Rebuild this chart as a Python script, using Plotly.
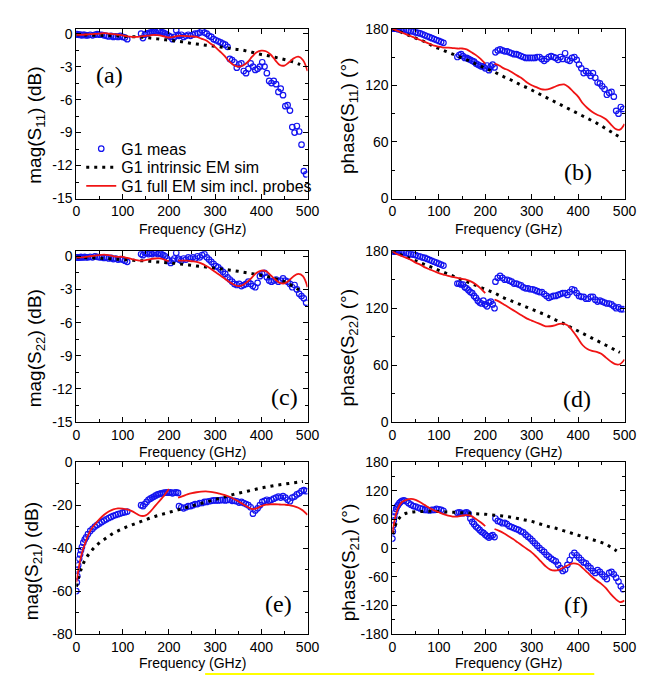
import plotly.graph_objects as go

# ---------------- frequency grids (GHz) ----------------
FREQ_MEAS_LOW = [0, 1, 2, 3, 4, 6, 8, 10, 12, 15, 18, 21, 25, 30, 35, 40, 45, 50, 55, 60,
                 65, 70, 75, 80, 85, 90, 95, 100, 105, 110]
FREQ_MEAS_MID = [140, 144, 148, 152, 156, 160, 164, 168, 172, 176, 180, 184, 188, 192,
                 196, 200, 204, 208, 212, 216, 220]
FREQ_MEAS_HIGH = [222, 227, 232, 237, 242, 247, 252, 257, 262, 267,
                  272, 277, 282, 287, 292, 297, 302, 307, 312, 317,
                  322, 327, 332, 337, 342, 347, 352, 357, 362, 367,
                  372, 377, 382, 387, 392, 397, 402, 407, 412, 417,
                  422, 427, 432, 437, 442, 447, 452, 457, 462, 467,
                  472, 477, 482, 487, 492, 497]
FREQ_SIM = [0, 10, 20, 30, 40, 50, 60, 70, 80, 90,
            100, 110, 120, 130, 140, 150, 160, 170, 180, 190,
            200, 210, 220, 230, 240, 250, 260, 270, 280, 290,
            300, 310, 320, 330, 340, 350, 360, 370, 380, 390,
            400, 410, 420, 430, 440, 450, 460, 470, 480, 490, 500]

# ---------------- (a) mag(S11) dB ----------------
a_meas_low = [-0.05, -0.05, -0.08, -0.1, -0.1, -0.1, -0.12, -0.1, -0.15, -0.1, -0.12, -0.15, -0.15,
              -0.1, -0.15, -0.1, -0.05, -0.1, -0.1, -0.15, -0.2, -0.25, -0.2, -0.3, -0.25, -0.3,
              -0.2, -0.3, -0.35, -0.5]
a_meas_mid = [0.0, -0.4, -0.1, 0.0, 0.05, 0.1, 0.15, 0.2, 0.1, 0.3, 0.25, 0.15, 0.1, 0.0,
              -0.1, -0.2, -0.3, -0.5, -0.3, 0.3, -0.1]
a_meas_high = [-0.2, -0.1, -0.3, -0.2, -0.1, -0.2, -0.1, 0.0, 0.0, 0.1,
               0.3, 0.1, 0.0, -0.2, -0.3, -0.5, -0.6, -0.7, -0.8, -0.9,
               -1.0, -1.2, -2.3, -2.4, -2.6, -3.1, -2.8, -2.7, -3.4, -3.6,
               -3.2, -2.7, -3.0, -3.3, -3.2, -3.0, -2.6, -3.0, -3.6, -4.3,
               -4.5, -4.3, -4.6, -5.3, -5.0, -5.6, -6.6, -6.5, -7.0, -8.5,
               -9.0, -8.4, -8.9, -10.1, -12.5, -12.8]
a_intr = [-0.1, -0.1, -0.12, -0.13, -0.15, -0.15, -0.17, -0.18, -0.2, -0.2,
          -0.22, -0.25, -0.27, -0.3, -0.32, -0.35, -0.4, -0.45, -0.5, -0.55,
          -0.6, -0.65, -0.7, -0.75, -0.82, -0.9, -0.95, -1.0, -1.05, -1.1,
          -1.15, -1.2, -1.27, -1.33, -1.4, -1.45, -1.5, -1.6, -1.7, -1.8,
          -1.9, -1.97, -2.05, -2.15, -2.25, -2.35, -2.45, -2.6, -2.75, -2.95, None]
a_full = [-0.1, -0.1, -0.08, -0.05, -0.02, 0.0, 0.05, 0.0, -0.05, -0.1,
          -0.15, -0.25, -0.3, -0.3, -0.25, -0.2, -0.15, -0.12, -0.15, -0.25,
          -0.35, -0.3, -0.2, -0.2, -0.22, -0.25, -0.3, -0.45, -0.6, -0.9,
          -1.2, -1.6, -2.0, -2.5, -2.85, -3.0, -2.9, -2.6, -2.1, -1.7,
          -1.55, -1.6, -1.9, -2.4, -2.85, -2.9, -2.6, -2.25, -2.1, -2.4, -3.4]

# ---------------- (b) phase(S11) deg ----------------
b_meas_low = [180, 180, 180, 180, 180, 180, 180, 180, 179.5, 179.5, 179, 179, 179, 178.5, 178,
              177.5, 177, 176, 175.5, 175, 174, 173, 172, 171, 170, 169, 168, 167, 166, 165]
b_meas_mid = [150, 152, 153, 151, 149, 149, 148, 147, 146, 145, 143, 142, 141, 140, 140, 138,
              141, 136, 140, 142, 139]
b_meas_high = [155, 157, 158, 157, 156, 156, 155, 154, 153, 153,
               152, 151, 150, 149, 149, 149, 149, 149, 150, 150,
               148, 146, 148, 150, 151, 150, 149, 147, 150, 148,
               154, 147, 146, 149, 150, 147, 142, 138, 133, 135,
               133, 130, 133, 128, 123, 122, 119, 116, 110, 112,
               113, 108, 93, 90, 97, 95]
b_intr = [180, 178, 176, 174, 172, 170, 168, 166, 163.5, 161,
          159, 157, 155, 153, 151, 149, 147, 145, 142.5, 140.5,
          138, 136, 134, 131.5, 129, 127, 124.5, 122, 119.5, 117.5,
          115, 112.5, 110, 107.5, 105, 102.5, 100, 97.5, 95, 92.5,
          90, 87.5, 85, 82.5, 80, 77, 74, 71, 68, 65, None]
b_full = [180, 178, 176, 174, 172, 170, 168, 166, 164, 162,
          161, 160, 160, 159.5, 159, 159, 158, 155, 152, 148,
          143, None, 143, 141, 138, 136, 133, 130, 127, 123,
          120, 118, 116, 115.5, 116.5, 118.5, 120.5, 121, 118, 113,
          108, 101, 96, 92, 89, 87, 84, 79, 74, 73, 79]

# ---------------- (c) mag(S22) dB ----------------
c_meas_low = [-0.1, -0.1, -0.1, -0.1, -0.1, -0.1, -0.1, -0.05, -0.1, -0.1, -0.05, -0.1, -0.1,
              -0.05, -0.1, 0.0, -0.05, -0.1, -0.1, -0.15, -0.1, -0.2, -0.15, -0.25, -0.2, -0.3,
              -0.25, -0.3, -0.4, -0.5]
c_meas_mid = [0.2, 0.1, 0.3, 0.3, 0.2, 0.3, 0.2, 0.3, 0.3, 0.2, 0.3, 0.2, 0.1, 0.0, -0.2,
              -0.4, -0.6, -0.4, -0.2, 0.3, -0.2]
c_meas_high = [-0.3, -0.4, -0.2, -0.3, -0.1, -0.2, -0.1, -0.2, 0.0, -0.1,
               0.1, 0.2, -0.1, -0.3, -0.5, -0.7, -0.9, -1.0, -1.2, -1.4,
               -1.6, -1.9, -2.1, -2.3, -2.5, -2.6, -2.5, -2.7, -2.6, -2.5,
               -2.3, -2.5, -2.7, -2.8, -2.4, -1.8, -1.6, -1.5, -1.9, -2.2,
               -2.3, -2.2, -2.1, -2.3, -2.2, -2.0, -2.2, -2.3, -2.5, -2.8,
               -2.6, -3.0, -3.4, -3.6, -3.8, -4.2]
c_intr = [-0.1, -0.1, -0.12, -0.13, -0.15, -0.17, -0.2, -0.22, -0.25, -0.27,
          -0.3, -0.32, -0.35, -0.38, -0.4, -0.43, -0.46, -0.5, -0.53, -0.56,
          -0.6, -0.63, -0.67, -0.72, -0.77, -0.82, -0.88, -0.93, -0.98, -1.03,
          -1.08, -1.13, -1.18, -1.24, -1.3, -1.36, -1.43, -1.5, -1.57, -1.64,
          -1.72, -1.8, -1.9, -2.0, -2.15, -2.3, -2.5, -2.75, -3.0, -3.2, None]
c_full = [-0.1, -0.1, -0.05, 0.0, 0.05, 0.1, 0.15, 0.1, 0.0, -0.05,
          -0.05, -0.15, -0.25, -0.35, -0.4, -0.35, -0.25, -0.2, -0.2, -0.3,
          -0.45, None, -0.4, -0.4, -0.4, -0.45, -0.5, -0.65, -0.85, -1.1,
          -1.4, -1.7, -2.0, -2.3, -2.55, -2.7, -2.6, -2.3, -1.9, -1.5,
          -1.3, -1.35, -1.7, -2.1, -2.4, -2.45, -2.2, -1.8, -1.6, -1.8, -2.8]

# ---------------- (d) phase(S22) deg ----------------
d_meas_low = [180, 180, 180, 180, 180, 180, 180, 180, 180, 179.5, 179, 179, 178.5, 178, 177.5,
              177, 176.5, 176, 175, 174.5, 173.5, 173, 172, 171, 170, 169, 168, 167, 166, 165]
d_meas_mid = [146, 146, 145, 145, 142, 141, 139, 137, 136, 133, 131, 128, 126, 125, 128, 124,
              122, 126, 127, 124, 120]
d_meas_high = [148, 152, 154, 152, 150, 150, 149, 148, 146, 146,
               145, 144, 142, 141, 141, 140, 140, 139, 138, 137,
               137, 135, 133, 131, 132, 133, 133, 134, 135, 136,
               136, 134, 137, 140, 139, 136, 133, 132, 132, 130,
               130, 132, 132, 129, 127, 128, 127, 126, 125, 125,
               124, 122, 120, 121, 119, 119]
d_intr = [180, 178, 176, 174, 172, 170, 168, 166, 164, 162,
          160, 158, 156, 154, 152, 150, 148, 146, 144, 142,
          140, 138, 136, 133.5, 131, 129, 127, 125, 123, 121,
          119, 117, 115, 113, 110.5, 108, 106, 103.5, 101, 98.5,
          96, 93.5, 91, 88.5, 86, 83.5, 81, 78.5, 76, 73.5, None]
d_full = [180, 177, 175, 173, 171, 168, 166, 163, 161, 159,
          157, 155.5, 154, 153, 152, 151, 150, 148, 145, 141,
          136, None, 129, 127, 124, 121, 118, 115, 112, 109,
          107, 105, 103, 101, 101, 102, 103.5, 103.5, 101, 95,
          88, 81, 77, 75, 74, 72, 68, 64, 61, 61, 66]

# ---------------- (e) mag(S21) dB ----------------
e_meas_low = [-60, -56, -53, -50, -48, -45, -43, -41, -39.5, -37.5, -36, -35, -33.5, -32, -31,
              -30, -29.2, -28.5, -27.8, -27.2, -26.6, -26, -25.5, -25, -24.6, -24.2, -23.9,
              -23.5, -23.3, -23]
e_meas_mid = [-20, -20.5, -19.5, -18.5, -17.5, -17, -16.5, -16, -15.5, -15, -14.8, -14.5,
              -14.3, -14.2, -14, -14.2, -14, -14.5, -14.2, -14, -14.3]
e_meas_high = [-20.5, -21, -21.5, -21, -20.5, -20.5, -20, -19.5, -19.5, -19,
               -19, -18.5, -18.5, -18.2, -18, -17.8, -17.8, -17.8, -17.7, -17.6,
               -17.8, -17.6, -17.5, -18, -18, -18.2, -18.8, -18.5, -19, -19.5,
               -20, -21, -24, -22.5, -21.5, -20, -18.5, -18, -17.5, -18,
               -17.5, -17, -16.5, -16, -16.5, -15.8, -16.5, -17.5, -18.2, -16.5,
               -16, -15, -14.5, -13.5, -13, -13.5]
e_intr = [-58, -50, -45, -42, -39.5, -37.5, -36, -34.5, -33, -32,
          -31, -30, -29.2, -28.4, -27.6, -26.8, -26, -25.3, -24.6, -24,
          -23.4, -22.8, -22.2, -21.6, -21, -20.4, -19.8, -19.2, -18.6, -18,
          -17.4, -16.8, -16.2, -15.6, -15, -14.5, -14, -13.5, -13, -12.5,
          -12, -11.6, -11.2, -10.8, -10.5, -10.2, -9.9, -9.6, -9.3, -9.0, None]
e_full = [-56, -44, -37, -32, -29, -26.5, -24.5, -23, -22, -21.5,
          -21.6, -22, -22.8, -24, -25, -24.8, -23, -20.5, -18, -15.5,
          -12.5, None, -16.5, -15.8, -15, -14.4, -14, -13.7, -13.6, -13.8,
          -14.2, -14.7, -15.2, -16, -17, -18.2, -19.5, -20.8, -21.8, -21.5,
          -20.5, -19.8, -19.6, -19.6, -19.7, -19.8, -20, -20.5, -21.2, -22.5, -24.5]

# ---------------- (f) phase(S21) deg ----------------
f_meas_low = [20, 35, 48, 58, 66, 75, 82, 87, 90, 94, 97, 99, 100, 98, 94, 91, 88, 87, 85, 83,
              82, 80, 80, 79, 80, 80, 82, 81, 80, 78]
f_meas_mid = [74, 75, 74, 73, 74, 75, 72, 62, 55, 50, 45, 42, 38, 34, 32, 28, 25, 22, 25, 27, 23]
f_meas_high = [62, 57, 55, 52, 53, 50, 46, 44, 42, 40,
               38, 35, 33, 28, 24, 20, 15, 10, 5, 0,
               -4, -8, -14, -18, -22, -25, -28, -35, -42, -48,
               -45, -35, -25, -15, -10, -15, -20, -25, -30, -32,
               -38, -42, -48, -52, -46, -50, -55, -60, -65, -52,
               -50, -55, -62, -70, -80, -86]
f_intr = [30, 56, 68, 73, 75, 76, 76.5, 77, 77, 77,
          76.5, 76, 75.5, 75, 74.5, 74, 73.5, 73, 72, 71.5,
          71, 70, 69, 68, 67, 65.5, 64, 62, 60, 58,
          56, 53, 50, 47, 44, 42, 39, 36, 33, 30,
          27, 24, 21, 18, 15, 12, 8, 2, -4, -11, None]
f_full = [32, 78, 96, 101, 103, 101, 96, 90, 84, 79,
          75, 71, 68, 66, 66, 68, 69, 67, 61, 54,
          46, None, 40, 36, 31, 25, 19, 12, 5, -2,
          -9, -18, -28, -38, -45, -47, -45, -40, -35, -32,
          -34, -42, -51, -60, -68, -75, -84, -96, -106, -113, -110]

# ---------------- axis tick labels ----------------
MAG_TICKS = [-15, -12, -9, -6, -3, 0]
PHASE_TICKS = [0, 60, 120, 180]
S21_MAG_TICKS = [-80, -60, -40, -20, 0]
S21_PHASE_TICKS = [-180, -120, -60, 0, 60, 120, 180]
FREQ_TICKS = [0, 100, 200, 300, 400, 500]

Y_TITLES = ["mag(S<sub>11</sub>) (dB)", "phase(S<sub>11</sub>) (°)",
            "mag(S<sub>22</sub>) (dB)", "phase(S<sub>22</sub>) (°)",
            "mag(S<sub>21</sub>) (dB)", "phase(S<sub>21</sub>) (°)"]
PANEL_LABELS = ["(a)", "(b)", "(c)", "(d)", "(e)", "(f)"]
LEGEND_NAMES = ["G1 meas", "G1 intrinsic EM sim", "G1 full EM sim incl. probes"]

# ---------------- figure ----------------
W, H = 649, 675
BLUE = "#1414f0"
RED = "#f01414"
FONT = "Liberation Sans, Arial, sans-serif"

panels = [
    (a_meas_low, a_meas_mid, a_meas_high, a_intr, a_full),
    (b_meas_low, b_meas_mid, b_meas_high, b_intr, b_full),
    (c_meas_low, c_meas_mid, c_meas_high, c_intr, c_full),
    (d_meas_low, d_meas_mid, d_meas_high, d_intr, d_full),
    (e_meas_low, e_meas_mid, e_meas_high, e_intr, e_full),
    (f_meas_low, f_meas_mid, f_meas_high, f_intr, f_full),
]

fig = go.Figure()
f_meas = FREQ_MEAS_LOW + FREQ_MEAS_MID + FREQ_MEAS_HIGH
for i, (lo, mid, hi, intr, full) in enumerate(panels):
    n = i + 1
    xa = "x" if n == 1 else f"x{n}"
    ya = "y" if n == 1 else f"y{n}"
    show = (n == 1)
    fig.add_trace(go.Scatter(x=f_meas, y=lo + mid + hi, mode="markers", name=LEGEND_NAMES[0],
                             marker=dict(symbol="circle-open", size=5.5, color=BLUE,
                                         line=dict(width=1.2, color=BLUE)),
                             showlegend=show, legend="legend", xaxis=xa, yaxis=ya))
    fig.add_trace(go.Scatter(x=FREQ_SIM, y=intr, mode="lines", name=LEGEND_NAMES[1],
                             line=dict(color="black", width=3, dash="3px,5px", shape="spline"),
                             connectgaps=False, showlegend=show, legend="legend2",
                             xaxis=xa, yaxis=ya))
    fig.add_trace(go.Scatter(x=FREQ_SIM, y=full, mode="lines", name=LEGEND_NAMES[2],
                             line=dict(color=RED, width=1.8, shape="spline"),
                             connectgaps=False, showlegend=show, legend="legend3",
                             xaxis=xa, yaxis=ya))

# domains in pixels
XDOM = [(66, 303), (390, 628)]
YDOM = [(13, 187), (241, 416), (457, 633)]
YRANGES = [[-15, 0.45], [0, 180], [-15, 0.45], [0, 180], [-80, 0], [-180, 180]]
YTICKS = [MAG_TICKS, PHASE_TICKS, MAG_TICKS, PHASE_TICKS, S21_MAG_TICKS, S21_PHASE_TICKS]
YMINOR = [1.5, 30, 1.5, 30, 10, 30]

axis_common = dict(showline=True, linecolor="black", linewidth=1, mirror="allticks",
                   ticks="inside", ticklen=5, tickwidth=1, tickcolor="black",
                   showgrid=False, zeroline=False,
                   tickfont=dict(family=FONT, size=14, color="black"))
layout = {}
for i in range(6):
    n = i + 1
    col = i % 2
    row = i // 2
    x0, x1 = XDOM[col]
    t, b = YDOM[row]
    xkey = "xaxis" if n == 1 else f"xaxis{n}"
    ykey = "yaxis" if n == 1 else f"yaxis{n}"
    layout[xkey] = dict(axis_common, domain=[x0 / W, x1 / W], range=[0, 500],
                        anchor="y" if n == 1 else f"y{n}",
                        tickmode="array", tickvals=FREQ_TICKS,
                        ticktext=[str(v) for v in FREQ_TICKS],
                        minor=dict(ticks="inside", ticklen=3, dtick=50, tick0=0,
                                   tickcolor="black", showgrid=False))
    layout[ykey] = dict(axis_common, domain=[1 - b / H, 1 - t / H], range=YRANGES[i],
                        anchor="x" if n == 1 else f"x{n}",
                        tickmode="array", tickvals=YTICKS[i],
                        ticktext=[str(v) for v in YTICKS[i]],
                        minor=dict(ticks="inside", ticklen=3, dtick=YMINOR[i], tick0=0,
                                   tickcolor="black", showgrid=False))

annotations = []
YT_POS = [(25, 112), (345, 102), (25, 340), (345, 340), (21, 558), (346, 560)]
for (px, py), txt in zip(YT_POS, Y_TITLES):
    annotations.append(dict(x=px / W, y=1 - py / H, xref="paper", yref="paper", text=txt,
                            showarrow=False, textangle=-90, xanchor="center", yanchor="middle",
                            font=dict(family=FONT, size=19, color="black")))
XT_POS = [(185, 218), (509, 218), (185, 447), (509, 447), (185, 663), (509, 663)]
for px, py in XT_POS:
    annotations.append(dict(x=px / W, y=1 - py / H, xref="paper", yref="paper",
                            text="Frequency (GHz)", showarrow=False,
                            xanchor="center", yanchor="middle",
                            font=dict(family=FONT, size=14, color="black")))
PL_POS = [(100, 60), (580, 160), (279, 390), (579, 392), (273, 602), (578, 603)]
for (px, py), txt in zip(PL_POS, PANEL_LABELS):
    annotations.append(dict(x=px / W, y=1 - py / H, xref="paper", yref="paper", text=txt,
                            showarrow=False, xanchor="center", yanchor="middle",
                            font=dict(family="Liberation Serif, Times New Roman, serif",
                                      size=24, color="black")))

legend_common = dict(xanchor="left", yanchor="middle", bgcolor="rgba(0,0,0,0)", borderwidth=0,
                     font=dict(family=FONT, size=16, color="black"))
LEG_Y = [136, 155, 174]
layout.update(dict(
    width=W, height=H,
    margin=dict(l=0, r=0, t=0, b=0),
    paper_bgcolor="white", plot_bgcolor="white",
    showlegend=True,
    legend=dict(legend_common, x=71 / W, y=1 - LEG_Y[0] / H),
    legend2=dict(legend_common, x=71 / W, y=1 - LEG_Y[1] / H),
    legend3=dict(legend_common, x=71 / W, y=1 - LEG_Y[2] / H),
    annotations=annotations,
    shapes=[dict(type="line", xref="paper", yref="paper",
                 x0=198 / W, x1=597 / W, y0=1 - 674 / H, y1=1 - 674 / H,
                 line=dict(color="#ffff00", width=2))],
))
fig.update_layout(**layout)
fig.write_html("out.html")
